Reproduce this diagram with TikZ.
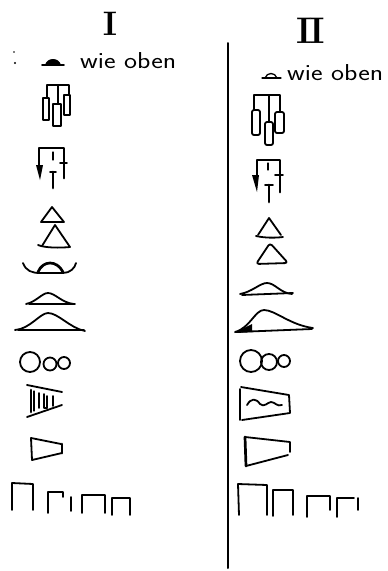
\documentclass[tikz,border=0pt]{standalone}
\begin{document}
\begin{tikzpicture}[x=1pt,y=-1pt,line cap=round,line join=round,
  pen/.style={draw=black,line width=1.8pt},
  thin pen/.style={draw=black,line width=1.3pt},
  heavy/.style={draw=black,line width=2.7pt},
  txt/.style={inner sep=0pt,anchor=base west,font=\fontsize{23}{23}\selectfont\sffamily},
  numeral/.style={inner sep=0pt,anchor=base}]
\useasboundingbox (0,0) rectangle (388,571);
\fill[white] (0,0) rectangle (388,571);

% headings
\node[numeral] (h1) at (110,35) {\fontsize{34}{34}\selectfont\bfseries I};
\node[numeral] (h2) at (311,43) {\fontsize{37}{37}\selectfont\bfseries I\kern-3pt I};
% separator
\draw[line width=2pt] (228,43) -- (228,568);

% stray marks left
\fill (14,52) circle (0.9);
\fill (15,63) circle (1.2);

% "wie oben" rows
\draw[pen] (42,65) -- (64,65);
\fill (45,65) .. controls (47,57) and (59,57) .. (61,65) -- cycle;
\node[txt] (t1) at (80,68) {\scalebox{1.2}[1]{wie oben}};
\draw[thin pen] (262,78) -- (281,78);
\draw[thin pen] (265,78) .. controls (267,72) and (275,72) .. (277,78);
\node[txt] (t2) at (287,80) {\scalebox{1.2}[1]{wie oben}};

% keyboard I
\draw[pen] (47,98) -- (47,85) -- (69,85) -- (69,95);
\draw[thin pen] (58,85) -- (58,104);
\draw[pen] (43,98) rectangle (49,120);
\draw[pen] (53,104) rectangle (61,126);
\draw[pen] (64,95) rectangle (70,115);
% keyboard II
\draw[pen] (254,110) -- (254,95) -- (280,95) -- (280,112);
\draw[thin pen] (269,95) -- (269,122);
\draw[pen,rounded corners=2pt] (252,110) rectangle (260,135);
\draw[pen,rounded corners=2pt] (265,122) rectangle (273,145);
\draw[pen,rounded corners=2pt] (275,112) rectangle (284,133);

% fork I
\draw[pen] (39,168) -- (39,148) -- (64,148) -- (64,178);
\fill (36,165) -- (43,165) -- (40,180) -- cycle;
\draw[thin pen] (53,152) -- (53,160);
\draw[pen] (50,172) -- (56,172);
\draw[heavy] (53,172) -- (53,188);
\draw[pen] (60,163) -- (67,163);
\draw[heavy] (64,163) -- (64,178);
% fork II
\draw[pen] (257,176) -- (257,160) -- (280,160) -- (280,192);
\fill (252,175) -- (259,175) -- (257,192) -- cycle;
\draw[thin pen] (268,163) -- (268,170);
\draw[pen] (265,185) -- (273,185);
\draw[heavy] (269,185) -- (269,202);
\draw[pen] (275,175) -- (283,175);
\draw[heavy] (280,175) -- (280,192);

% triangles I
\draw[pen] (41,222) -- (52,207) -- (64,222) -- cycle;
\draw[pen] (42,246) -- (55,225) -- (70,247);
\draw[pen] (38,245) .. controls (45,248) and (60,248) .. (70,247);
% triangles II
\draw[pen] (258,235) -- (269,218) -- (281,235);
\draw[pen] (256,236) .. controls (265,238) and (275,238) .. (283,237);
\draw[pen,rounded corners=3pt] (256,264) -- (270,243) -- (288,263) -- cycle;

% mustache I
\draw[pen] (23,263) .. controls (26,271) and (32,273) .. (40,273) -- (63,273)
  .. controls (70,273) and (75,268) .. (76,263);
\draw[heavy] (38,272) .. controls (43,260) and (57,260) .. (63,272);

% bumps I
\draw[pen] (26,304) .. controls (36,302) and (42,293) .. (48,293)
  .. controls (55,293) and (62,303) .. (74,304);
\draw[pen] (29,304) -- (75,304);
\draw[pen] (15,330) .. controls (30,329) and (40,313) .. (48,313)
  .. controls (58,313) and (70,328) .. (85,331);
\draw[pen] (18,330) -- (84,330);
% bumps II
\draw[pen] (240,294) .. controls (252,292) and (260,283) .. (267,283)
  .. controls (275,283) and (280,293) .. (292,294);
\draw[pen] (242,295) -- (293,293);
\draw[pen] (235,332) .. controls (250,328) and (255,310) .. (264,310)
  .. controls (275,310) and (290,325) .. (313,328);
\draw[pen] (237,332) -- (312,329);
\fill (234,333) -- (252,324) -- (252,332) -- cycle;

% circles I
\draw[pen] (30,362) circle (10);
\draw[pen] (50,364) circle (6.5);
\draw[pen] (64,363) circle (6);
% circles II
\draw[pen] (251,361) circle (11);
\draw[pen] (269,362) circle (8);
\draw[pen] (284,361) circle (6);

% hatched trapezoid I
\draw[pen] (27,385) -- (62,392);
\draw[pen] (27,417) -- (62,405);
\draw[heavy] (31,390) -- (31,412);
\draw[thin pen] (34,391) -- (34,411);
\draw[pen] (39,393) -- (39,408);
\draw[pen] (44,394) -- (44,408) -- (47,408);
\draw[pen] (47,396) -- (47,408);
\draw[pen] (53,396) -- (53,406);
% trapezoid II with wave
\draw[pen] (240,389) -- (240,420);
\draw[pen] (241,387) -- (289,395) -- (290,413) -- (242,420);
\draw[pen] (247,405) .. controls (251,398) and (256,398) .. (260,404)
  .. controls (264,408) and (268,402) .. (271,402)
  .. controls (275,402) and (277,407) .. (282,405);

% small trapezoid I
\draw[pen] (61,444) -- (31,438) -- (32,460) -- (62,453);
\draw[heavy] (62,444) -- (62,453);
% small trapezoid II
\draw[heavy] (245,437) -- (246,466);
\draw[pen] (245,437) -- (290,442) -- (290,452);
\draw[pen] (246,466) -- (288,455);

% arches I
\draw[pen] (12,510) -- (12,483) -- (33,484) -- (33,510);
\draw[pen] (48,513) -- (48,492) -- (63,492) -- (63,497);
\draw[pen] (71,497) -- (71,511);
\draw[pen] (82,513) -- (82,495) -- (105,495) -- (105,513);
\draw[pen] (112,515) -- (112,498) -- (130,498) -- (130,515);
% arches II
\draw[pen] (239,515) -- (238,484) -- (267,485) -- (267,515);
\draw[pen] (273,516) -- (273,490) -- (293,490) -- (293,515);
\draw[pen] (307,517) -- (307,496) -- (330,496) -- (330,510);
\draw[pen] (337,517) -- (337,498) -- (354,498);
\draw[pen] (358,498) -- (358,510);
\end{tikzpicture}
\end{document}
